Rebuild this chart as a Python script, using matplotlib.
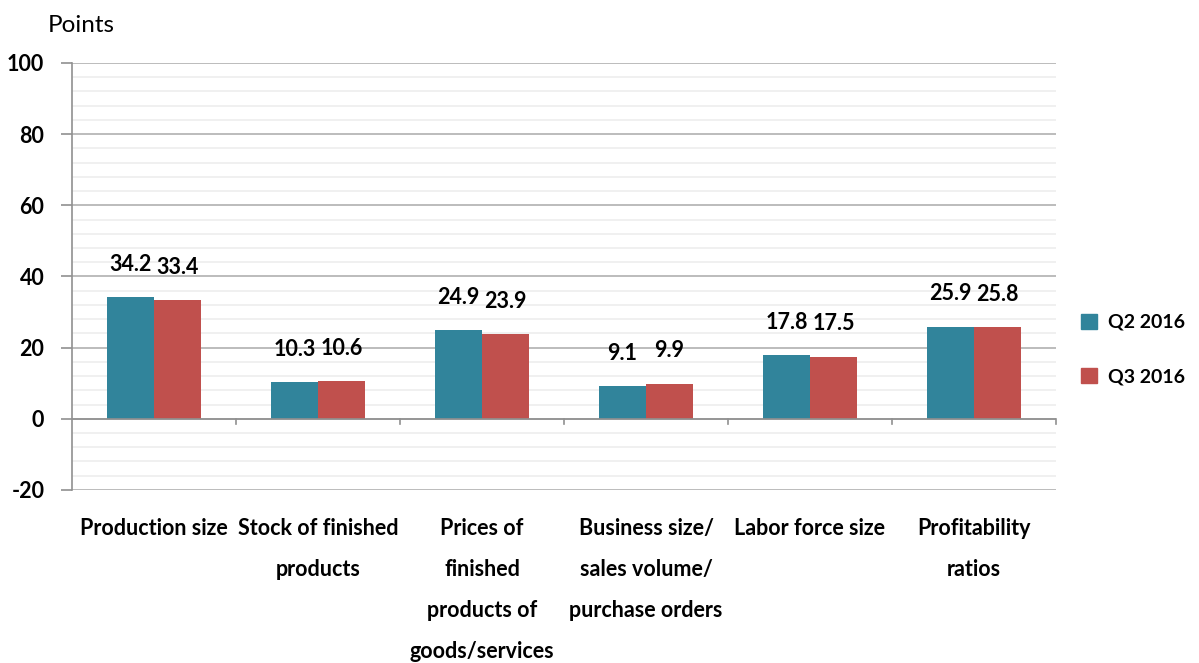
import numpy as np
import matplotlib
matplotlib.use("Agg")
import matplotlib.pyplot as plt
from matplotlib.patches import Patch

categories = ["Production size", "Stock of finished\nproducts",
              "Prices of\nfinished\nproducts of\ngoods/services",
              "Business size/\nsales volume/\npurchase orders",
              "Labor force size", "Profitability\nratios"]
q2_2016 = [34.2, 10.3, 24.9, 9.1, 17.8, 25.9]
q3_2016 = [33.4, 10.6, 23.9, 9.9, 17.5, 25.8]
series_names = ["Q2 2016", "Q3 2016"]

blue = "#31849b"
red = "#c0504d"
plt.rcParams['font.family'] = ['Lato', 'DejaVu Sans']
plt.rcParams['axes.unicode_minus'] = False

fig = plt.figure(figsize=(11.99, 6.63), dpi=100)
ax = fig.add_axes([0.0601, 0.261, 0.8206, 0.644])

x = np.arange(len(categories))
w = 0.287
b1 = ax.bar(x - w / 2, q2_2016, w, color=blue, zorder=3)
b2 = ax.bar(x + w / 2, q3_2016, w, color=red, zorder=3)

for bars, vals in ((b1, q2_2016), (b2, q3_2016)):
    for r, v in zip(bars, vals):
        ax.annotate(f"{v:.1f}", (r.get_x() + r.get_width() / 2, v),
                    xytext=(0, 16), textcoords="offset points",
                    ha="center", va="bottom", fontsize=15.5, fontweight="bold")

ax.set_xlim(-0.5, len(categories) - 0.5)
ax.set_ylim(-20, 100)
ax.set_yticks(np.arange(-20, 101, 20))
ax.set_yticks(np.arange(-20, 101, 4), minor=True)
ax.grid(axis="y", which="major", color="#b0b0b0", linewidth=1.2, zorder=0)
ax.grid(axis="y", which="minor", color="#eeeeee", linewidth=1.2, zorder=0)
ax.tick_params(axis="y", which="major", length=8, color="#909090", width=1.2,
               labelsize=15.5, pad=12)
ax.tick_params(axis="y", which="minor", length=0)
for lbl in ax.get_yticklabels():
    lbl.set_fontweight("bold")

ax.set_xticks(x)
ax.set_xticklabels(categories, fontsize=15.5, fontweight="bold", linespacing=2.18, va="top")
ax.tick_params(axis="x", length=0, pad=20)

for s in ("top", "right", "bottom"):
    ax.spines[s].set_visible(False)
ax.spines["left"].set_color("#909090")
ax.spines["left"].set_linewidth(1.2)

# category axis sits at zero, with boundary ticks hanging below it
ax.axhline(0, color="#909090", linewidth=1.2, zorder=4)
for b in np.arange(0.5, len(categories), 1.0):
    ax.plot([b, b], [0, -1.6], color="#909090", linewidth=1.2, zorder=4, clip_on=False)

fig.text(0.040, 0.962, "Points", fontsize=17.5, va="center", ha="left")

handles = [Patch(color=blue), Patch(color=red)]
fig.legend(handles, series_names, loc="center left", bbox_to_anchor=(0.902, 0.473),
           frameon=False, prop={"size": 14, "weight": "bold"}, borderpad=0, borderaxespad=0,
           handlelength=0.8, handleheight=0.8, labelspacing=1.9, handletextpad=0.55)

fig.savefig("out.png", dpi=100)
